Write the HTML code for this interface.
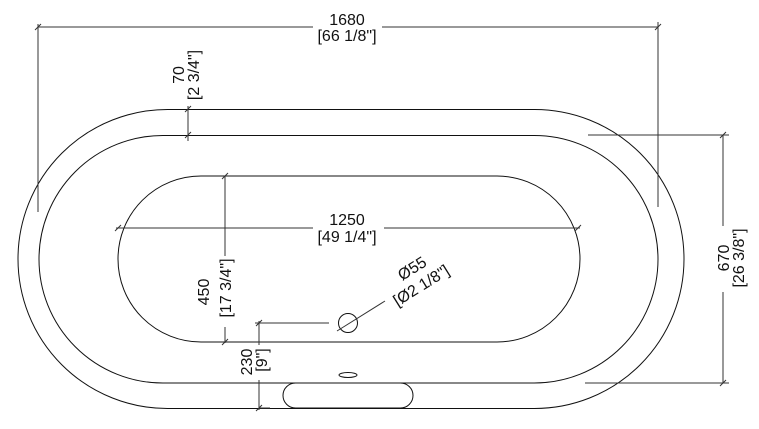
<!DOCTYPE html>
<html><head><meta charset="utf-8"><style>
html,body{margin:0;padding:0;background:#fff;}
svg{display:block;}
text{font-family:"Liberation Sans",sans-serif;font-size:16px;fill:#111;}
</style></head><body>
<svg width="759" height="429" viewBox="0 0 759 429" xmlns="http://www.w3.org/2000/svg">
<g fill="none" stroke="#111" stroke-width="1">
<rect x="18" y="109.5" width="666" height="299" rx="149.5" ry="149.5"/>
<rect x="39" y="135.5" width="619" height="247.5" rx="123.75" ry="123.75"/>
<rect x="118" y="176" width="462" height="166" rx="83" ry="83"/>
<rect x="283" y="383" width="130" height="25" rx="12.5" ry="12.5"/>
<ellipse cx="348" cy="375" rx="9" ry="2.5"/>
<circle cx="348" cy="323" r="9.5"/>
</g>
<g stroke="#333" stroke-width="1" fill="none">
<line x1="38" y1="27" x2="313" y2="27"/>
<line x1="382" y1="27" x2="658" y2="27"/>
<line x1="38" y1="24" x2="38" y2="212"/>
<line x1="658" y1="22" x2="658" y2="207"/>
<line x1="35" y1="30" x2="41" y2="24"/><line x1="655" y1="30" x2="661" y2="24"/>
<line x1="188" y1="106" x2="188" y2="141"/>
<line x1="185" y1="112" x2="191" y2="106"/><line x1="185" y1="138" x2="191" y2="132"/>
<line x1="225" y1="176" x2="225" y2="256"/>
<line x1="225" y1="327" x2="225" y2="343"/>
<line x1="222" y1="179" x2="228" y2="173"/><line x1="222" y1="345" x2="228" y2="339"/>
<line x1="116" y1="228" x2="313" y2="228"/>
<line x1="384" y1="228" x2="580" y2="228"/>
<line x1="115" y1="231" x2="121" y2="225"/><line x1="575" y1="231" x2="581" y2="225"/>
<line x1="255" y1="323" x2="329" y2="323"/>
<line x1="259" y1="321" x2="259" y2="345"/>
<line x1="259" y1="380" x2="259" y2="410"/>
<line x1="256" y1="326" x2="262" y2="320"/><line x1="256" y1="411" x2="262" y2="405"/>
<line x1="259" y1="408" x2="270" y2="408"/>
<line x1="337" y1="331" x2="385" y2="301"/>
<line x1="588" y1="135" x2="729" y2="135"/>
<line x1="585" y1="383" x2="729" y2="383"/>
<line x1="723" y1="135" x2="723" y2="226"/>
<line x1="723" y1="292" x2="723" y2="383"/>
<line x1="720" y1="138" x2="726" y2="132"/><line x1="720" y1="386" x2="726" y2="380"/>
</g>
<text x="347" y="25" text-anchor="middle">1680</text>
<text x="347" y="41" text-anchor="middle">[66 1/8"]</text>
<text x="347" y="225" text-anchor="middle">1250</text>
<text x="347" y="242" text-anchor="middle">[49 1/4"]</text>
<text transform="translate(184,75) rotate(-90)" text-anchor="middle">70</text>
<text transform="translate(199,75) rotate(-90)" text-anchor="middle">[2 3/4"]</text>
<text transform="translate(209,292) rotate(-90)" text-anchor="middle">450</text>
<text transform="translate(231,288) rotate(-90)" text-anchor="middle">[17 3/4"]</text>
<text transform="translate(252,362) rotate(-90)" text-anchor="middle">230</text>
<text transform="translate(267,360) rotate(-90)" text-anchor="middle">[9"]</text>
<text transform="translate(729,258) rotate(-90)" text-anchor="middle">670</text>
<text transform="translate(744,258) rotate(-90)" text-anchor="middle">[26 3/8"]</text>
<text transform="translate(415,273) rotate(-32)" text-anchor="middle">Ø55</text>
<text transform="translate(424,290) rotate(-32)" text-anchor="middle">[Ø2 1/8"]</text>
</svg>
</body></html>
